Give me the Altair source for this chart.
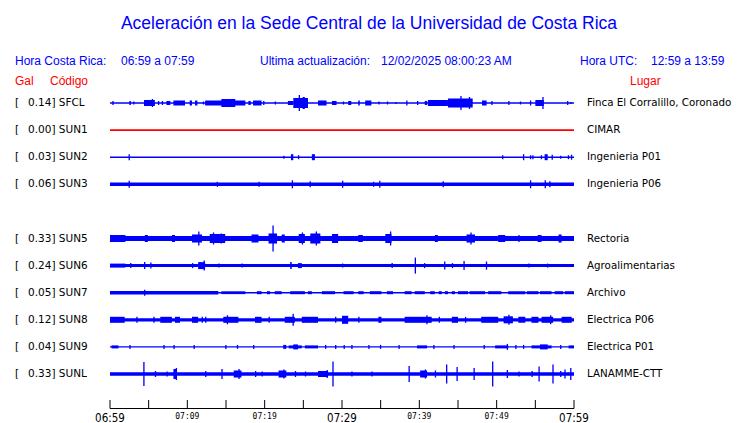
import altair as alt
import pandas as pd

# ---------------- data ----------------
TITLE = "Aceleración en la Sede Central de la Universidad de Costa Rica"
CODES = ["SFCL", "SUN1", "SUN2", "SUN3", "SUN5", "SUN6", "SUN7", "SUN8", "SUN9", "SUNL"]
PLACES = ["Finca El Corralillo, Coronado", "CIMAR", "Ingenieria P01", "Ingenieria P06",
          "Rectoria", "Agroalimentarias", "Archivo", "Electrica P06", "Electrica P01", "LANAMME-CTT"]
GAL = [0.14, 0.00, 0.03, 0.06, 0.33, 0.24, 0.05, 0.12, 0.04, 0.33]
ROWS = [0, 1, 2, 3, 5, 6, 7, 8, 9, 10]          # slot 4 (SUN4) is empty
COLORS = ["blue", "red", "blue", "blue", "blue", "blue", "blue", "blue", "blue", "blue"]
# background (noise) half-amplitude of each trace, relative units (27 = one row)
BASE = [0.8, 0.8, 0.8, 1.7, 2.5, 1.5, 0.7, 1.6, 0.7, 1.8]

# minutes after 06:59
TICK_MIN = [0, 5, 10, 15, 20, 25, 30, 35, 40, 45, 50, 55, 60]
BIG_LABEL_MIN = [0, 30, 60]
BIG_LABELS = ["06:59", "07:29", "07:59"]
SMALL_LABEL_MIN = [10, 20, 40, 50]
SMALL_LABELS = ["07:09", "07:19", "07:39", "07:49"]

# bursts: (start minute, end minute, half amplitude)
SFCL_EV = [(0.3, 0.3, 2), (2.5, 2.7, 2), (3.0, 3.0, 1.5), (4.4, 5.8, 3), (5.4, 5.4, 4),
           (6.2, 6.2, 2), (6.7, 6.7, 2), (7.3, 7.8, 2), (8.2, 9.7, 2.5), (10.3, 10.6, 2.5),
           (11.0, 11.3, 2.5), (12.0, 12.0, 1.5), (12.3, 17.5, 2.5), (14.4, 16.2, 4),
           (17.9, 18.2, 2), (18.5, 19.6, 2.5), (19.8, 19.8, 2), (21.3, 21.3, 1.5),
           (23.0, 23.7, 2), (23.7, 25.6, 5), (24.4, 24.4, 8), (24.9, 25.2, 6),
           (26.9, 28.0, 2.5), (28.7, 29.3, 2), (30.1, 30.1, 1.5), (30.8, 31.2, 2),
           (32.1, 32.3, 2.5), (33.0, 33.8, 2.5), (34.7, 34.7, 1.5), (35.8, 35.8, 1.5),
           (36.9, 36.9, 1), (38.3, 38.3, 2.5), (39.7, 39.7, 2), (40.7, 41.0, 2),
           (41.1, 43.7, 3), (43.7, 46.9, 4.5), (45.3, 45.3, 7), (46.4, 46.4, 6),
           (48.1, 48.7, 2.5), (49.3, 49.3, 2), (51.5, 51.5, 2), (53.0, 53.0, 1.5),
           (54.3, 54.3, 2.5), (55.0, 56.1, 3), (55.9, 55.9, 6), (59.1, 59.1, 2), (59.5, 59.5, 1)]
SUN1_EV = []
SUN2_EV = [(2.4, 2.4, 3), (22.4, 22.4, 1.5), (23.4, 23.7, 3), (24.3, 24.3, 2), (26.1, 26.5, 3),
           (50.7, 50.7, 2), (53.4, 53.4, 3), (54.3, 54.3, 2), (54.6, 54.6, 2), (55.7, 55.7, 2),
           (56.2, 56.6, 3), (57.1, 57.1, 2.5), (58.2, 58.2, 1.5), (59.2, 59.2, 2), (59.6, 59.6, 2.5)]
SUN3_EV = [(2.4, 2.4, 3.5), (13.8, 13.8, 2.5), (19.2, 19.2, 2.5), (23.5, 23.5, 4), (25.8, 25.8, 3),
           (30.0, 30.0, 3.5), (34.0, 34.0, 2.5), (34.8, 34.8, 3.5), (43.0, 43.0, 3),
           (54.3, 54.3, 4), (56.2, 56.2, 4), (56.8, 56.8, 3)]
SUN5_EV = [(0.0, 2.0, 3.5), (4.5, 4.9, 3.5), (8.0, 8.4, 3.5), (10.6, 11.9, 4), (11.4, 11.4, 7),
           (12.9, 14.9, 4.5), (13.3, 13.3, 6), (14.3, 14.3, 5), (18.3, 19.2, 4), (20.5, 21.6, 5),
           (21.0, 21.0, 13), (22.2, 22.6, 4), (24.4, 25.2, 4.5), (24.8, 24.8, 6), (25.9, 27.2, 5),
           (26.6, 26.6, 7), (28.7, 29.5, 4.5), (32.1, 32.7, 3.5), (35.6, 36.4, 4.5), (36.2, 36.2, 7),
           (42.0, 42.4, 3.5), (46.1, 47.2, 4), (46.6, 46.6, 6), (50.2, 51.1, 3.5), (52.8, 52.8, 3.5),
           (55.3, 55.8, 3.5), (58.0, 58.4, 4)]
SUN6_EV = [(0.0, 2.0, 2), (2.6, 2.6, 2.5), (4.4, 4.4, 3.5), (5.2, 5.2, 3), (10.6, 10.6, 2.5),
           (11.4, 12.3, 3.5), (12.1, 12.1, 5), (14.0, 14.0, 2), (17.0, 17.0, 2), (23.3, 23.5, 3.5),
           (24.3, 24.8, 2.5), (30.0, 30.0, 2), (36.4, 36.4, 2.5), (39.4, 39.4, 8), (40.6, 40.6, 2.5),
           (43.2, 43.2, 4), (44.2, 44.2, 2.5), (45.7, 45.7, 4.5), (48.6, 48.6, 4), (54.1, 54.1, 2),
           (56.5, 56.5, 2)]
SUN7_EV = [(0.0, 14.0, 1.7), (4.4, 4.4, 3), (14.4, 17.5, 1.4), (19.0, 19.6, 1.5), (20.3, 20.7, 1.5),
           (21.3, 22.2, 1.5), (23.3, 25.2, 1.5), (25.6, 26.1, 1.5), (27.4, 29.1, 1.5), (30.2, 31.5, 1.5),
           (32.1, 32.8, 1.5), (33.6, 35.1, 1.5), (35.8, 36.6, 1.5), (38.1, 39.0, 1.5), (39.4, 40.7, 1.5),
           (41.4, 42.0, 1.5), (42.5, 42.9, 1.5), (43.3, 43.7, 1.5), (44.2, 44.6, 1.5), (45.0, 46.3, 1.5),
           (46.5, 48.5, 1.5), (48.9, 50.6, 1.5), (51.5, 53.7, 1.5), (53.9, 55.4, 1.5), (55.6, 57.1, 1.5),
           (57.5, 58.6, 1.5), (58.8, 60.0, 1.5)]
SUN8_EV = [(0.0, 1.9, 3), (3.4, 3.4, 3), (5.6, 5.6, 3), (6.5, 8.0, 3), (8.4, 9.05, 3), (10.6, 11.4, 3),
           (11.85, 11.85, 3), (12.3, 12.3, 3), (14.65, 16.6, 3), (15.1, 15.1, 4.5), (18.75, 19.6, 3),
           (20.5, 20.5, 3), (22.6, 23.9, 3), (23.6, 23.6, 6), (24.8, 26.9, 3), (29.1, 29.1, 3),
           (30.0, 30.8, 4), (32.1, 32.1, 3), (34.7, 35.1, 3), (38.1, 41.6, 3), (40.9, 40.9, 4.5),
           (42.5, 42.5, 3), (44.2, 45.0, 3), (45.9, 45.9, 3), (48.0, 50.2, 3), (50.9, 52.1, 3.5),
           (51.5, 51.5, 5), (52.8, 53.7, 3), (54.5, 55.4, 3), (55.8, 57.3, 3), (56.9, 56.9, 4.5),
           (58.4, 59.7, 3)]
SUN9_EV = [(0.2, 1.1, 1.5), (2.5, 2.5, 2), (6.9, 6.9, 2), (8.2, 8.2, 2), (10.8, 10.8, 2), (14.9, 14.9, 2),
           (16.4, 16.4, 2), (18.5, 18.5, 2), (22.4, 22.8, 2), (23.1, 24.8, 1.5), (23.7, 24.3, 2.5),
           (25.2, 26.9, 1.5), (27.8, 27.8, 2), (29.1, 29.1, 2), (30.2, 30.2, 2), (31.2, 31.2, 2),
           (33.4, 33.4, 2), (34.9, 34.9, 2), (37.3, 37.3, 2), (39.7, 41.0, 1.5), (41.8, 41.8, 2),
           (44.4, 44.4, 2), (48.3, 48.3, 2), (49.8, 51.5, 1.5), (51.3, 51.3, 3), (52.4, 52.4, 2),
           (53.4, 53.4, 2), (54.5, 57.1, 1.5), (55.6, 56.6, 2.5), (58.2, 58.2, 2), (59.3, 60.0, 1.5)]
SUNL_EV = [(4.3, 4.3, 12), (5.8, 5.8, 3), (7.3, 7.3, 2.5), (8.2, 8.6, 5), (8.5, 8.5, 6), (12.3, 12.3, 3),
           (14.4, 14.4, 5), (16.0, 17.0, 3.5), (16.6, 16.6, 5), (18.75, 18.75, 3), (19.6, 19.6, 2.5),
           (21.8, 22.8, 3.5), (22.4, 22.4, 4.5), (23.9, 23.9, 3), (25.2, 25.2, 2.5), (26.9, 28.2, 3),
           (28.0, 28.0, 4), (28.75, 28.75, 12.5), (31.2, 31.2, 2.5), (33.8, 33.8, 2.5), (38.6, 38.6, 8),
           (40.1, 41.0, 3.5), (40.7, 40.7, 4.5), (42.0, 42.0, 3.5), (43.45, 43.45, 9.5),
           (44.8, 44.8, 7), (47.0, 47.0, 6), (49.4, 49.4, 12.5), (51.3, 51.3, 4), (52.8, 52.8, 2.5),
           (54.5, 54.5, 3), (55.4, 55.4, 7.5), (57.2, 57.2, 9.5), (58.2, 58.2, 3), (58.75, 58.75, 4.5),
           (59.5, 59.5, 6)]
EVENTS = [SFCL_EV, SUN1_EV, SUN2_EV, SUN3_EV, SUN5_EV, SUN6_EV, SUN7_EV, SUN8_EV, SUN9_EV, SUNL_EV]

ROW_UNITS = 27.0   # relative amplitude units per row spacing
SPIKE_W = 0.17     # width (minutes) given to single-instant spikes

# ---------------- tables ----------------
recs = []
for i, code in enumerate(CODES):
    r = ROWS[i]
    recs.append(dict(code=code, x0=0, x1=60, y0=r - BASE[i] / ROW_UNITS,
                     y1=r + BASE[i] / ROW_UNITS, color=COLORS[i]))
    for (s, e, a) in EVENTS[i]:
        if e <= s:
            e = s + SPIKE_W
        recs.append(dict(code=code, x0=s, x1=e, y0=r - a / ROW_UNITS,
                         y1=r + a / ROW_UNITS, color=COLORS[i]))
traces = pd.DataFrame(recs)

gal_strings = [f"{g:.2f}] {c}" for g, c in zip(GAL, CODES)]
labels = pd.DataFrame(dict(row=ROWS, code=CODES, place=PLACES, gal=gal_strings))

xs = alt.Scale(domain=[0, 60], range=[102, 566])
ys = alt.Scale(domain=[0, 10], range=[95, 366])

trace_layer = alt.Chart(traces).mark_rect().encode(
    x=alt.X("x0:Q", scale=xs, axis=None),
    x2="x1:Q",
    y=alt.Y("y0:Q", scale=ys, axis=None),
    y2="y1:Q",
    color=alt.Color("color:N", scale=None),
)

bracket = alt.Chart(labels).mark_text(align="left", baseline="middle", font="DejaVu Sans",
                                      fontSize=10.5, color="black").encode(
    x=alt.value(7), y=alt.Y("row:Q", scale=ys, axis=None), text=alt.value("["))
gal_text = alt.Chart(labels).mark_text(align="left", baseline="middle", font="DejaVu Sans",
                                       fontSize=10.5, color="black").encode(
    x=alt.value(20), y=alt.Y("row:Q", scale=ys, axis=None), text="gal:N")
place_text = alt.Chart(labels).mark_text(align="left", baseline="middle", font="DejaVu Sans",
                                         fontSize=10.3, color="black").encode(
    x=alt.value(579), y=alt.Y("row:Q", scale=ys, axis=None), text="place:N")

# time axis
ticks_df = pd.DataFrame(dict(m=TICK_MIN))
axis_line = alt.Chart(pd.DataFrame(dict(a=[0], b=[60]))).mark_rule(color="black", strokeWidth=1).encode(
    x=alt.X("a:Q", scale=xs, axis=None), x2="b:Q", y=alt.value(400.5))
tick_marks = alt.Chart(ticks_df).mark_rule(color="black", strokeWidth=1).encode(
    x=alt.X("m:Q", scale=xs, axis=None), y=alt.value(392), y2=alt.value(400.5))
big_lab = alt.Chart(pd.DataFrame(dict(m=BIG_LABEL_MIN, t=BIG_LABELS))).mark_text(
    align="center", baseline="alphabetic", font="DejaVu Sans Condensed, DejaVu Sans",
    fontSize=11.5, color="black").encode(
    x=alt.X("m:Q", scale=xs, axis=None), y=alt.value(413.5), text="t:N")
small_lab = alt.Chart(pd.DataFrame(dict(m=SMALL_LABEL_MIN, t=SMALL_LABELS))).mark_text(
    align="center", baseline="alphabetic", font="DejaVu Sans Mono", fontSize=8, color="black").encode(
    x=alt.X("m:Q", scale=xs, axis=None), y=alt.value(411), text="t:N")


def txt(s, x, y, color="blue", size=12, align="left", font="Liberation Sans"):
    return alt.Chart(pd.DataFrame(dict(t=[s]))).mark_text(
        align=align, baseline="alphabetic", font=font, fontSize=size, color=color).encode(
        x=alt.value(x), y=alt.value(y), text="t:N")


headers = [
    txt(TITLE, 361, 21, size=17.5, align="center"),
    txt("Hora Costa Rica:", 7, 57),
    txt("06:59 a 07:59", 113, 57),
    txt("Ultima actualización:", 252, 57),
    txt("12/02/2025 08:00:23 AM", 373, 57),
    txt("Hora UTC:", 572, 57),
    txt("12:59 a 13:59", 643, 57),
    txt("Gal", 7, 77, color="red"),
    txt("Código", 42, 77, color="red"),
    txt("Lugar", 622, 77, color="red"),
]

chart = alt.layer(
    trace_layer, bracket, gal_text, place_text,
    axis_line, tick_marks, big_lab, small_lab, *headers
).properties(
    width=724, height=415, autosize=alt.AutoSizeParams(type="none"), padding=0
).configure_view(stroke=None)

chart.save("out.html", embed_options={"renderer": "svg", "actions": False})
